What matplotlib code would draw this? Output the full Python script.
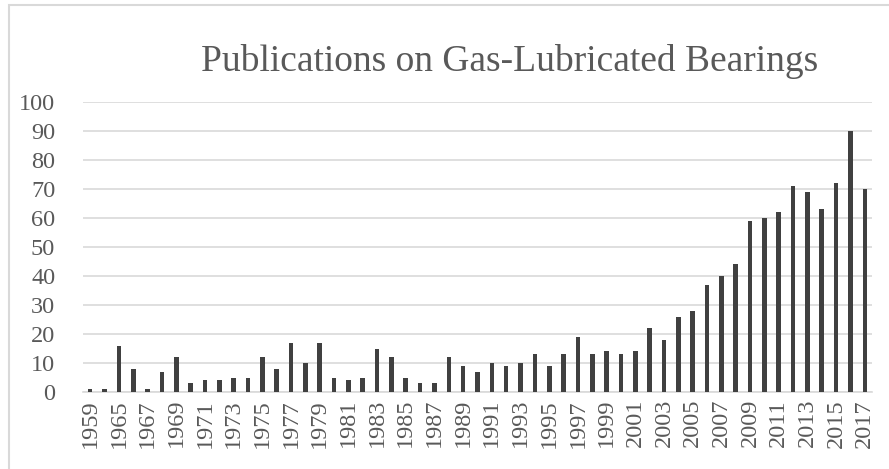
import matplotlib
matplotlib.use("Agg")
import matplotlib.pyplot as plt
from matplotlib.patches import Rectangle

years = ["1959", "1964", "1965", "1966", "1967", "1968", "1969", "1970", "1971", "1972",
         "1973", "1974", "1975", "1976", "1977", "1978", "1979", "1980", "1981", "1982",
         "1983", "1984", "1985", "1986", "1987", "1988", "1989", "1990", "1991", "1992",
         "1993", "1994", "1995", "1996", "1997", "1998", "1999", "2000", "2001", "2002",
         "2003", "2004", "2005", "2006", "2007", "2008", "2009", "2010", "2011", "2012",
         "2013", "2014", "2015", "2016", "2017"]
counts = [1, 1, 16, 8, 1, 7, 12, 3, 4, 4,
          5, 5, 12, 8, 17, 10, 17, 5, 4, 5,
          15, 12, 5, 3, 3, 12, 9, 7, 10, 9,
          10, 13, 9, 13, 19, 13, 14, 13, 14, 22,
          18, 26, 28, 37, 40, 44, 59, 60, 62, 71,
          69, 63, 72, 90, 70]
yticks = [0, 10, 20, 30, 40, 50, 60, 70, 80, 90, 100]

W, H = 889, 469
fig = plt.figure(figsize=(W / 100, H / 100), dpi=100)
plt.rcParams['font.family'] = ['Liberation Serif', 'DejaVu Serif']

left, right, bottom, top = 83, 872, 392, 102
ax = fig.add_axes([left / W, 1 - bottom / H, (right - left) / W, (bottom - top) / H])

x = list(range(len(years)))
ax.bar(x, counts, width=0.32, color="#404040", zorder=3)
ax.set_xlim(-0.5, len(years) - 0.5)
ax.set_ylim(0, 100)
ax.set_yticks(yticks)
ax.set_yticklabels([str(v) for v in yticks])
ax.set_xticks(x[::2])
ax.set_xticklabels(years[::2], rotation=90)
ax.tick_params(axis="both", length=0, labelsize=17.5, colors="#595959")
ax.tick_params(axis="y", pad=20)
ax.tick_params(axis="x", pad=5)
ax.grid(axis="y", color="#d9d9d9", linewidth=1.2, zorder=0)
for s in ["top", "right", "left"]:
    ax.spines[s].set_visible(False)
ax.spines["bottom"].set_color("#d9d9d9")
ax.spines["bottom"].set_linewidth(1.2)

fig.text(510 / W, 1 - 61 / H, "Publications on Gas-Lubricated Bearings",
         ha="center", va="center", fontsize=27, color="#595959")

fig.patches.append(Rectangle((8.5 / W, -0.1), 1.2, 1 - 5.5 / H + 0.1,
                             transform=fig.transFigure, fill=False,
                             edgecolor="#d9d9d9", linewidth=1.5))

fig.savefig("out.png", dpi=100)
